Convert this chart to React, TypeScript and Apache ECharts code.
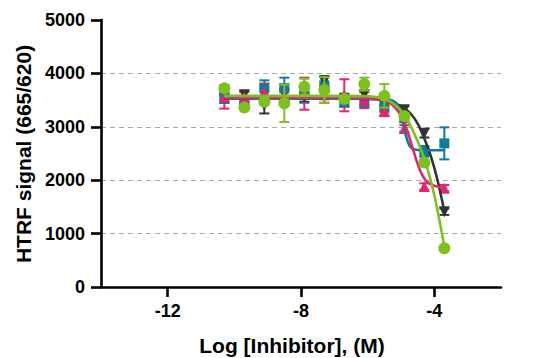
import React, { useEffect, useRef } from "react";
import * as echarts from "echarts";

const xValues = [-10.3, -9.7, -9.1, -8.5, -7.9, -7.3, -6.7, -6.1, -5.5, -4.9, -4.3, -3.7];

const darkValues = [3530, 3600, 3400, 3600, 3550, 3850, 3500, 3600, 3450, 3320, 2880, 1410];
const darkErrors = [80, 60, 150, 100, 80, 100, 120, 80, 60, 60, 80, 60];

const tealValues = [3550, 3500, 3720, 3720, 3600, 3750, 3480, 3470, 3380, 3165, 2540, 2690];
const tealErrors = [100, 80, 150, 200, 150, 100, 100, 100, 100, 80, 100, 300];

const pinkValues = [3560, 3560, 3660, 3600, 3620, 3600, 3590, 3500, 3300, 2970, 1880, 1850];
const pinkErrors = [220, 100, 150, 200, 300, 150, 300, 150, 100, 60, 60, 60];

const greenValues = [3720, 3360, 3470, 3440, 3750, 3690, 3520, 3800, 3580, 3200, 2330, 725];
const greenErrors = [60, 40, 60, 350, 150, 240, 60, 120, 220, 60, 40, 40];

// fitted curves
const darkCurve = [[-10.3, 3530], [-7, 3530], [-6, 3522], [-5.6, 3505], [-5.3, 3470], [-5.1, 3420], [-4.9, 3345], [-4.7, 3240], [-4.5, 3060], [-4.3, 2780], [-4.1, 2440], [-3.9, 1990], [-3.7, 1420]];
const tealCurve = [[-10.3, 3530], [-7, 3530], [-5.6, 3520], [-5.4, 3510], [-5.25, 3490], [-5.15, 3450], [-5.05, 3340], [-4.95, 3100], [-4.85, 2830], [-4.75, 2650], [-4.65, 2585], [-4.5, 2565], [-4.2, 2560], [-3.7, 2560]];
const pinkCurve = [[-10.3, 3545], [-7, 3545], [-6, 3535], [-5.7, 3520], [-5.5, 3490], [-5.3, 3430], [-5.1, 3300], [-4.95, 3150], [-4.8, 2900], [-4.65, 2600], [-4.5, 2300], [-4.35, 2080], [-4.2, 1960], [-4.0, 1895], [-3.7, 1855]];
const greenCurve = [[-10.3, 3580], [-7, 3580], [-6, 3572], [-5.7, 3555], [-5.5, 3525], [-5.3, 3465], [-5.1, 3370], [-4.9, 3210], [-4.7, 3000], [-4.5, 2730], [-4.3, 2400], [-4.1, 1980], [-3.9, 1420], [-3.7, 760]];

const xTicks = [-12, -8, -4];

const COLORS = { dark: "#333333", teal: "#0e7c98", pink: "#e5256f", green: "#7cc11d" };
const FONT = '"Liberation Sans", Arial, sans-serif';

function errorSeries(values: number[], errors: number[], color: string, z: number) {
  return {
    type: "custom",
    z,
    silent: true,
    data: xValues.map((x, i) => [x, values[i] - errors[i], values[i] + errors[i]]),
    encode: { x: 0, y: [1, 2] },
    renderItem: (_params: any, api: any) => {
      const x = api.value(0);
      const top = api.coord([x, api.value(2)]);
      const bot = api.coord([x, api.value(1)]);
      const w = 5;
      const style = { stroke: color, lineWidth: 2 };
      return {
        type: "group",
        children: [
          { type: "line", shape: { x1: top[0], y1: top[1], x2: bot[0], y2: bot[1] }, style },
          { type: "line", shape: { x1: top[0] - w, y1: top[1], x2: top[0] + w, y2: top[1] }, style },
          { type: "line", shape: { x1: bot[0] - w, y1: bot[1], x2: bot[0] + w, y2: bot[1] }, style },
        ],
      };
    },
  };
}

function scatterSeries(values: number[], color: string, symbol: string, size: number, rotate: number, z: number) {
  return {
    type: "scatter",
    z,
    symbol,
    symbolSize: size,
    symbolRotate: rotate,
    itemStyle: { color, opacity: 1 },
    data: xValues.map((x, i) => [x, values[i]]),
  };
}

function curveSeries(curve: number[][], color: string, z: number) {
  return {
    type: "line",
    z,
    data: curve,
    smooth: 0.3,
    showSymbol: false,
    symbol: "none",
    lineStyle: { color, width: 2.6 },
  };
}

export default function App() {
  const ref = useRef<HTMLDivElement>(null);
  useEffect(() => {
    if (!ref.current) return;
    const chart = echarts.init(ref.current, null, { renderer: "svg" });
    chart.setOption({
      animation: false,
      backgroundColor: "#ffffff",
      grid: { left: 101, right: 32, top: 20, bottom: 71 },
      xAxis: {
        type: "value",
        min: -14,
        max: -2,
        axisLine: { show: true, onZero: false, lineStyle: { color: "#000", width: 2.6 } },
        axisTick: { show: true, customValues: xTicks, length: 10, lineStyle: { color: "#000", width: 2.6 } },
        axisLabel: { customValues: xTicks, margin: 15, color: "#000", fontSize: 18, fontWeight: "bold", fontFamily: FONT },
        splitLine: { show: false },
      },
      yAxis: {
        type: "value",
        min: 0,
        max: 5000,
        interval: 1000,
        axisLine: { show: true, lineStyle: { color: "#000", width: 2.6 } },
        axisTick: { show: true, length: 10, lineStyle: { color: "#000", width: 2.6 } },
        axisLabel: {
          margin: 16,
          color: "#000",
          fontSize: 18,
          fontWeight: "bold",
          fontFamily: FONT,
          formatter: (v: number) => String(v),
        },
        splitLine: {
          show: true,
          showMinLine: false,
          showMaxLine: false,
          lineStyle: { color: "#aaaaaa", type: [5, 4], width: 1.2 },
        },
      },
      graphic: [
        {
          type: "text",
          x: 292,
          y: 345,
          style: {
            text: "Log [Inhibitor], (M)",
            font: `bold 21px ${FONT}`,
            fill: "#000",
            textAlign: "center",
            textVerticalAlign: "middle",
          },
        },
        {
          type: "text",
          x: 23,
          y: 154,
          rotation: Math.PI / 2,
          style: {
            text: "HTRF signal (665/620)",
            font: `bold 21px ${FONT}`,
            fill: "#000",
            textAlign: "center",
            textVerticalAlign: "middle",
          },
        },
      ],
      series: [
        errorSeries(darkValues, darkErrors, COLORS.dark, 2),
        errorSeries(tealValues, tealErrors, COLORS.teal, 2),
        errorSeries(pinkValues, pinkErrors, COLORS.pink, 2),
        scatterSeries(darkValues, COLORS.dark, "triangle", 11, 180, 3),
        scatterSeries(tealValues, COLORS.teal, "rect", 10, 0, 3),
        scatterSeries(pinkValues, COLORS.pink, "triangle", 11, 0, 3),
        curveSeries(darkCurve, COLORS.dark, 4),
        curveSeries(tealCurve, COLORS.teal, 4),
        curveSeries(pinkCurve, COLORS.pink, 4),
        curveSeries(greenCurve, COLORS.green, 4),
        errorSeries(greenValues, greenErrors, COLORS.green, 5),
        scatterSeries(greenValues, COLORS.green, "circle", 12, 0, 6),
      ],
    });
    return () => chart.dispose();
  }, []);
  return <div ref={ref} style={{ position: "fixed", left: 0, top: 0, width: 533, height: 358 }} />;
}
